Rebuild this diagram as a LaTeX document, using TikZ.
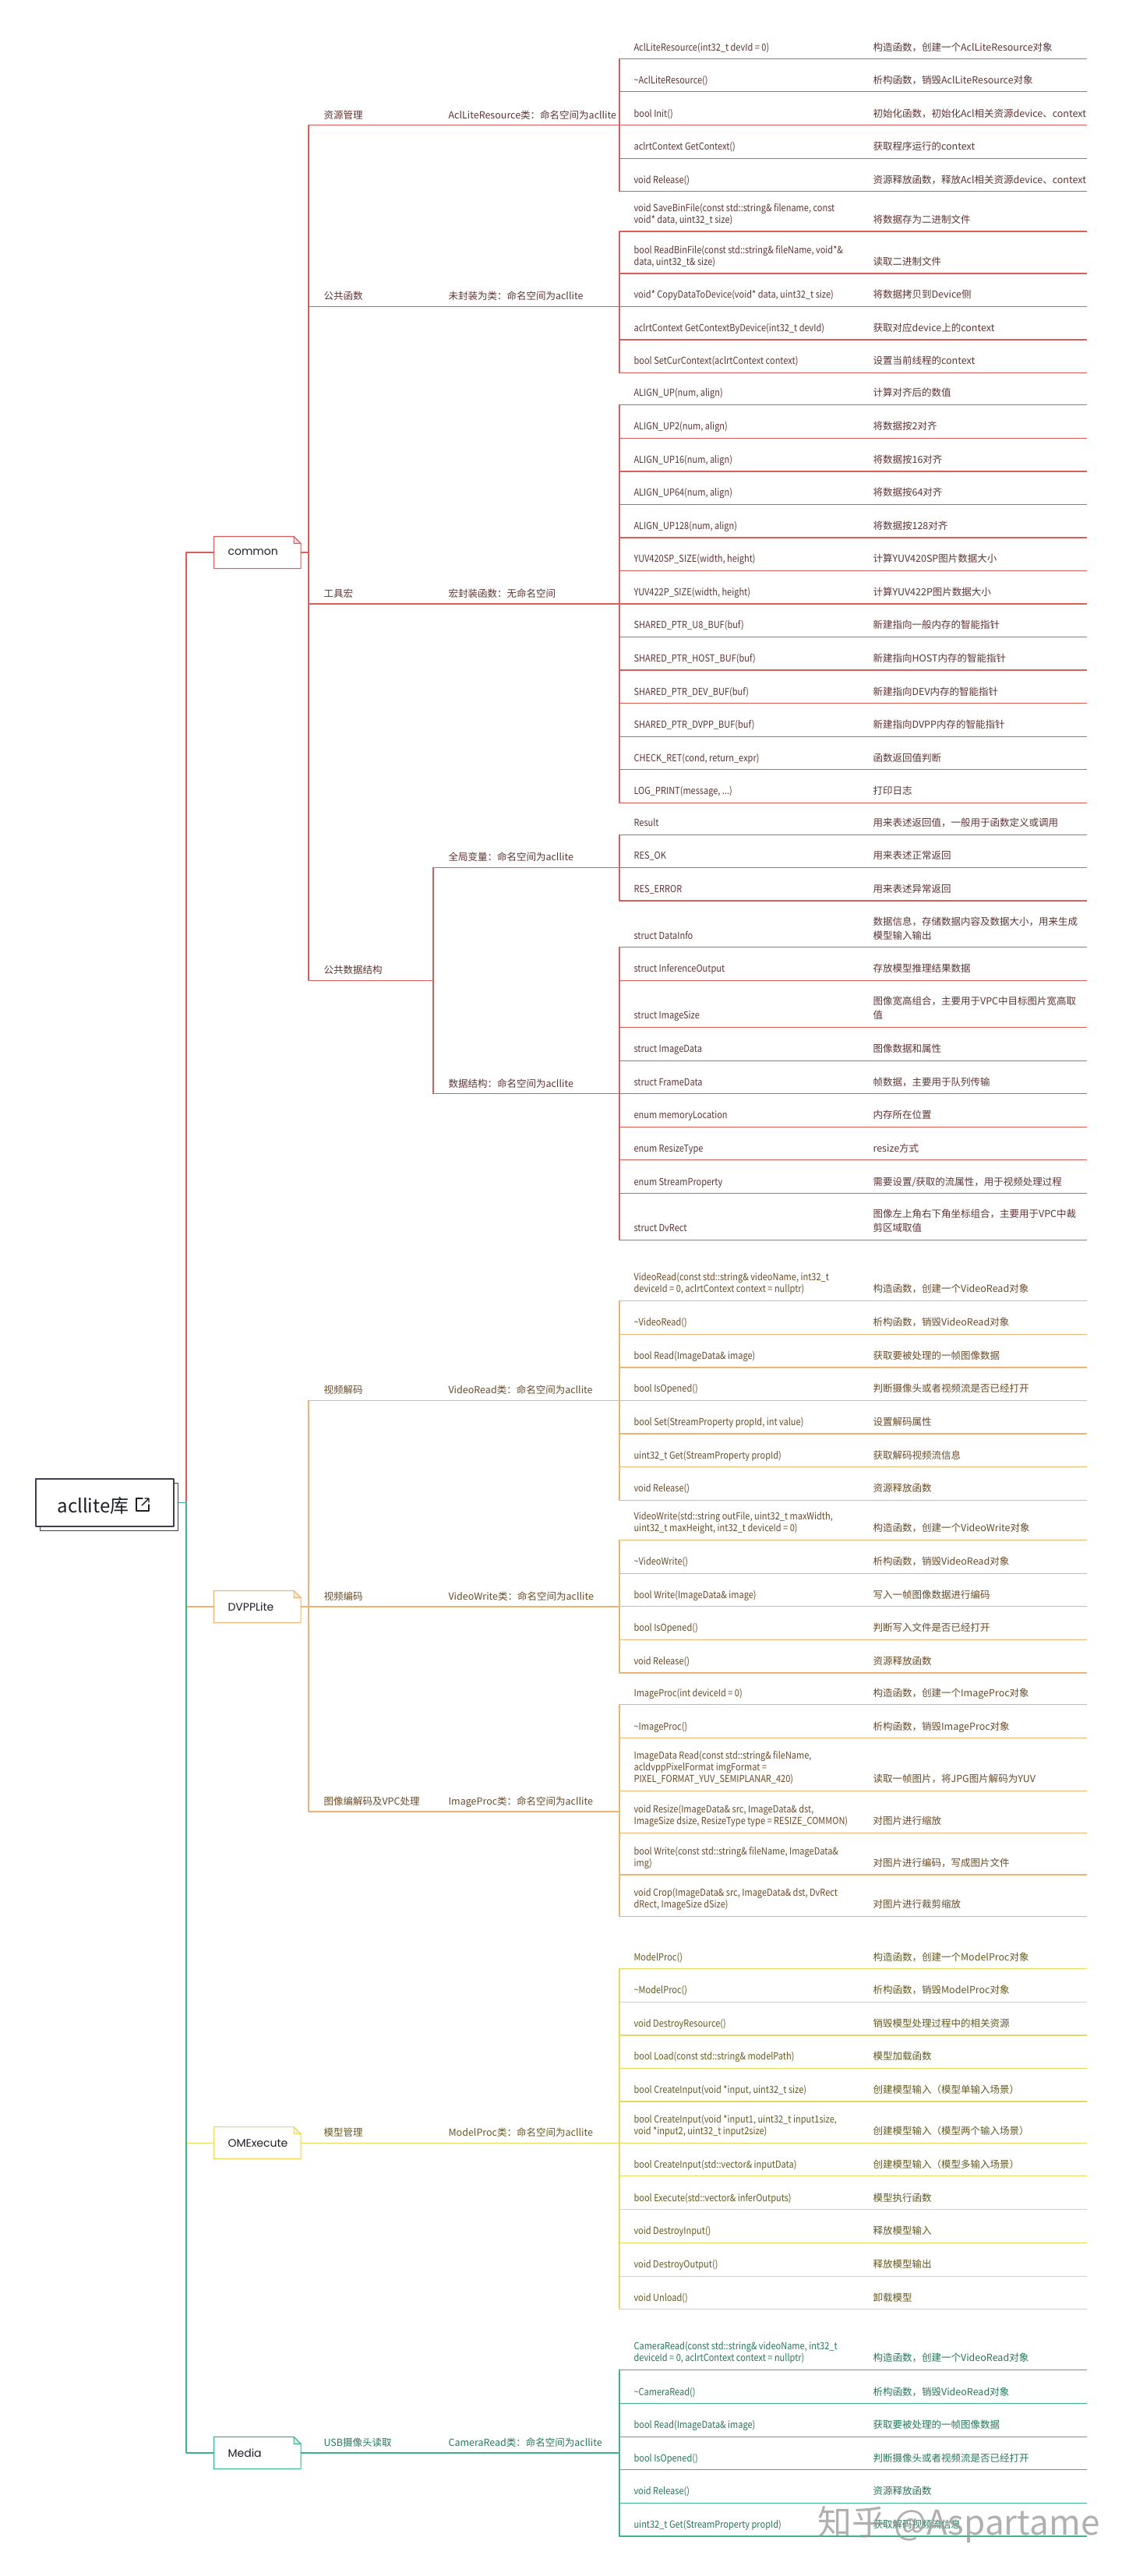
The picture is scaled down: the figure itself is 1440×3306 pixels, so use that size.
\documentclass[tikz,border=0pt]{standalone}
\usepackage{fontspec}
\setmainfont{Noto Sans CJK SC}
\newfontfamily\sigfont[FakeStretch=0.88]{Noto Sans CJK SC}
\newfontfamily\topicfont{Poppins}
\usetikzlibrary{calc}
\definecolor{ink}{RGB}{30,30,40}
\definecolor{rootln}{RGB}{62,62,78}
\definecolor{lnR}{RGB}{220,92,92}
\definecolor{txR}{RGB}{95,52,52}
\definecolor{fdR}{RGB}{246,214,214}
\definecolor{lnO}{RGB}{234,180,115}
\definecolor{txO}{RGB}{105,75,40}
\definecolor{fdO}{RGB}{250,232,208}
\definecolor{lnY}{RGB}{232,216,92}
\definecolor{txY}{RGB}{100,90,30}
\definecolor{fdY}{RGB}{248,242,200}
\definecolor{lnG}{RGB}{62,178,142}
\definecolor{txG}{RGB}{38,118,90}
\definecolor{fdG}{RGB}{208,238,228}
\definecolor{wmark}{RGB}{150,150,150}
% eine Zeile: Unterstrich ab Stamm, Signatur, Beschreibung
\newcommand{\leaf}[4]{%
  \coordinate (#1) at (795,#2);
  \draw (#1) -- ++(599.5,0);
  \node[sig] (#1s) at (813,#2-7) {#3};
  \node[desc] (#1d) at (1120,#2-7) {#4};
}
% Rahmen mit Eselsohr um einen Themenknoten
\newcommand{\dogear}[2]{%
  \draw (#1.south west) -- (#1.north west) -- ([xshift=-9pt]#1.north east)
    -- ([yshift=-9pt]#1.north east) -- (#1.south east) -- cycle;
  \draw[fill=#2] ([xshift=-9pt]#1.north east) -- ([xshift=-9pt,yshift=-9pt]#1.north east)
    -- ([yshift=-9pt]#1.north east) -- cycle;
}
\tikzset{
  every picture/.style={line width=1.1pt, line cap=round, line join=round},
  % Texte
  sig/.style={anchor=south west, inner sep=0pt, text depth=3pt, align=left,
    font=\sigfont\fontsize{12.5}{15}\selectfont},
  desc/.style={anchor=south west, inner sep=0pt, text depth=3pt, align=left,
    font=\fontsize{12.5}{18}\selectfont},
  lbl/.style={anchor=south west, inner sep=0pt, text depth=3pt,
    font=\fontsize{12.5}{15}\selectfont},
  topic/.style={anchor=west, text width=75.5pt, inner xsep=17.5pt, inner ysep=0pt,
    minimum height=40pt, align=left, text=ink, font=\topicfont\fontsize{14}{16}\selectfont},
  rootbox/.style={draw=rootln, line width=1.3pt, minimum width=177pt, minimum height=61pt,
    inner sep=0pt},
  % Zweigfarben
  red branch/.style={color=lnR, every node/.append style={text=txR}},
  orange branch/.style={color=lnO, every node/.append style={text=txO}},
  yellow branch/.style={color=lnY, every node/.append style={text=txY}},
  green branch/.style={color=lnG, every node/.append style={text=txG}},
}
\begin{document}
\begin{tikzpicture}[x=1pt, y=-1pt]
  \fill[white] (0,0) rectangle (1440,3306);
  \useasboundingbox (0,0) rectangle (1440,3306);

  % Wurzel
  \node[rootbox] (rootback) at (140,1934) {};
  \node[rootbox, fill=white] (root) at (134.5,1928.5) {};
  \node[anchor=base west, inner sep=0pt, text=ink, font=\fontsize{24}{28}\selectfont]
    (rootlbl) at (73,1941) {acllite库};
  \coordinate (ic) at ($(root.center)+(40.5,-5.5)$);
  \draw[ink, line width=1.4pt] ($(ic)+(8,0)$) -- (ic) -- ++(0,16) -- ++(16,0) -- ++(0,-8);
  \draw[ink, line width=1.4pt] ($(ic)+(7,9)$) -- ++(9,-9) ++(-5,0) -- ++(5,0) -- ++(0,5);
  \coordinate (rootJ) at (239,1928.5);

  % ---------------- common ----------------
  \begin{scope}[red branch]
    \node[topic] (common) at (274.5,709) {common};
    \dogear{common}{fdR}
    \draw (rootJ) |- (common.west);
    \coordinate (cmJ) at (396,709);
    \draw (common.east) -- (cmJ);
    \foreach \y/\s/\d [count=\i] in {
      75.7/{AclLiteResource(int32\_t devId = 0)}/{构造函数，创建一个AclLiteResource对象},
      117.8/{\textasciitilde AclLiteResource()}/{析构函数，销毁AclLiteResource对象},
      160.7/{bool Init()}/{初始化函数，初始化Acl相关资源device、context},
      203.1/{aclrtContext GetContext()}/{获取程序运行的context},
      245.6/{void Release()}/{资源释放函数，释放Acl相关资源device、context}}
      {\leaf{res\i}{\y}{\s}{\d}}
    \draw (res1) -- (res5);
    \foreach \y/\s/\d [count=\i] in {
      297/{void SaveBinFile(const std::string\& filename, const\\void* data, uint32\_t size)}/{将数据存为二进制文件},
      351/{bool ReadBinFile(const std::string\& fileName, void*\&\\data, uint32\_t\& size)}/{读取二进制文件},
      393.4/{void* CopyDataToDevice(void* data, uint32\_t size)}/{将数据拷贝到Device侧},
      436/{aclrtContext GetContextByDevice(int32\_t devId)}/{获取对应device上的context},
      478.4/{bool SetCurContext(aclrtContext context)}/{设置当前线程的context}}
      {\leaf{fun\i}{\y}{\s}{\d}}
    \draw (fun1) -- (fun5);
    \foreach \y/\s/\d [count=\i] in {
      519.4/{ALIGN\_UP(num, align)}/{计算对齐后的数值},
      562.1/{ALIGN\_UP2(num, align)}/{将数据按2对齐},
      605/{ALIGN\_UP16(num, align)}/{将数据按16对齐},
      647.1/{ALIGN\_UP64(num, align)}/{将数据按64对齐},
      690/{ALIGN\_UP128(num, align)}/{将数据按128对齐},
      732.4/{YUV420SP\_SIZE(width, height)}/{计算YUV420SP图片数据大小},
      775/{YUV422P\_SIZE(width, height)}/{计算YUV422P图片数据大小},
      817.4/{SHARED\_PTR\_U8\_BUF(buf)}/{新建指向一般内存的智能指针},
      860/{SHARED\_PTR\_HOST\_BUF(buf)}/{新建指向HOST内存的智能指针},
      902.7/{SHARED\_PTR\_DEV\_BUF(buf)}/{新建指向DEV内存的智能指针},
      945.2/{SHARED\_PTR\_DVPP\_BUF(buf)}/{新建指向DVPP内存的智能指针},
      987.7/{CHECK\_RET(cond, return\_expr)}/{函数返回值判断},
      1030.2/{LOG\_PRINT(message, ...)}/{打印日志}}
      {\leaf{mac\i}{\y}{\s}{\d}}
    \draw (mac1) -- (mac13);
    \foreach \y/\s/\d [count=\i] in {
      1071.3/{Result}/{用来表述返回值，一般用于函数定义或调用},
      1113.2/{RES\_OK}/{用来表述正常返回},
      1156/{RES\_ERROR}/{用来表述异常返回}}
      {\leaf{var\i}{\y}{\s}{\d}}
    \draw (var1) -- (var3);
    \foreach \y/\s/\d [count=\i] in {
      1215.7/{struct DataInfo}/{数据信息，存储数据内容及数据大小，用来生成\\模型输入输出},
      1258.5/{struct InferenceOutput}/{存放模型推理结果数据},
      1318.5/{struct ImageSize}/{图像宽高组合，主要用于VPC中目标图片宽高取\\值},
      1361.3/{struct ImageData}/{图像数据和属性},
      1403.8/{struct FrameData}/{帧数据，主要用于队列传输},
      1446.3/{enum memoryLocation}/{内存所在位置},
      1488.8/{enum ResizeType}/{resize方式},
      1531.6/{enum StreamProperty}/{需要设置/获取的流属性，用于视频处理过程},
      1591.2/{struct DvRect}/{图像左上角右下角坐标组合，主要用于VPC中裁\\剪区域取值}}
      {\leaf{dat\i}{\y}{\s}{\d}}
    \draw (dat1) -- (dat9);
    % Unterthemen
    \coordinate (k1) at (396,160.7);
    \coordinate (k2) at (396,393.4);
    \coordinate (k3) at (396,775);
    \coordinate (k4) at (396,1258.5);
    \coordinate (k4b) at (556,1258.5);
    \coordinate (j4a) at (556,1113.2);
    \coordinate (j4b) at (556,1403.8);
    \draw (k1) -- (k4);
    \draw (k1) -- (k1 -| res1);
    \draw (k2) -- (k2 -| fun1);
    \draw (k3) -- (k3 -| mac1);
    \draw (k4) -- (k4b);
    \draw (j4a) -- (j4b);
    \draw (j4a) -- (j4a -| var1);
    \draw (j4b) -- (j4b -| dat1);
    \node[lbl] (t1) at (415,160.7-5) {资源管理};
    \node[lbl] (t2) at (415,393.4-5) {公共函数};
    \node[lbl] (t3) at (415,775-5) {工具宏};
    \node[lbl] (t4) at (415,1258.5-5) {公共数据结构};
    \node[lbl] (c1) at (575,160.7-5) {AclLiteResource类：命名空间为acllite};
    \node[lbl] (c2) at (575,393.4-5) {未封装为类：命名空间为acllite};
    \node[lbl] (c3) at (575,775-5) {宏封装函数：无命名空间};
    \node[lbl] (c4) at (575,1113.2-5) {全局变量：命名空间为acllite};
    \node[lbl] (c5) at (575,1403.8-5) {数据结构：命名空间为acllite};
  \end{scope}

  % ---------------- DVPPLite ----------------
  \begin{scope}[orange branch]
    \node[topic] (dvpp) at (274.5,2062) {DVPPLite};
    \dogear{dvpp}{fdO}
    \draw (rootJ) |- (dvpp.west);
    \coordinate (dvJ) at (396,2062);
    \draw (dvpp.east) -- (dvJ);
    \foreach \y/\s/\d [count=\i] in {
      1669.3/{VideoRead(const std::string\& videoName, int32\_t\\deviceId = 0, aclrtContext context = nullptr)}/{构造函数，创建一个VideoRead对象},
      1712.1/{\textasciitilde VideoRead()}/{析构函数，销毁VideoRead对象},
      1755/{bool Read(ImageData\& image)}/{获取要被处理的一帧图像数据},
      1797.5/{bool IsOpened()}/{判断摄像头或者视频流是否已经打开},
      1840/{bool Set(StreamProperty propId, int value)}/{设置解码属性},
      1882.8/{uint32\_t Get(StreamProperty propId)}/{获取解码视频流信息},
      1925.3/{void Release()}/{资源释放函数}}
      {\leaf{vr\i}{\y}{\s}{\d}}
    \draw (vr1) -- (vr7);
    \foreach \y/\s/\d [count=\i] in {
      1976.3/{VideoWrite(std::string outFile, uint32\_t maxWidth,\\uint32\_t maxHeight, int32\_t deviceId = 0)}/{构造函数，创建一个VideoWrite对象},
      2019.2/{\textasciitilde VideoWrite()}/{析构函数，销毁VideoRead对象},
      2061.7/{bool Write(ImageData\& image)}/{写入一帧图像数据进行编码},
      2104.5/{bool IsOpened()}/{判断写入文件是否已经打开},
      2147/{void Release()}/{资源释放函数}}
      {\leaf{vw\i}{\y}{\s}{\d}}
    \draw (vw1) -- (vw5);
    \foreach \y/\s/\d [count=\i] in {
      2187.8/{ImageProc(int deviceId = 0)}/{构造函数，创建一个ImageProc对象},
      2230.7/{\textasciitilde ImageProc()}/{析构函数，销毁ImageProc对象},
      2298.5/{ImageData Read(const std::string\& fileName,\\acldvppPixelFormat imgFormat =\\PIXEL\_FORMAT\_YUV\_SEMIPLANAR\_420)}/{读取一帧图片，将JPG图片解码为YUV},
      2352.4/{void Resize(ImageData\& src, ImageData\& dst,\\ImageSize dsize, ResizeType type = RESIZE\_COMMON)}/{对图片进行缩放},
      2406/{bool Write(const std::string\& fileName, ImageData\&\\img)}/{对图片进行编码，写成图片文件},
      2459.2/{void Crop(ImageData\& src, ImageData\& dst, DvRect\\dRect, ImageSize dSize)}/{对图片进行裁剪缩放}}
      {\leaf{ip\i}{\y}{\s}{\d}}
    \draw (ip1) -- (ip6);
    \coordinate (k5) at (396,1797.5);
    \coordinate (k6) at (396,2062);
    \coordinate (k7) at (396,2325);
    \draw (k5) -- (k7);
    \draw (k5) -- (k5 -| vr1);
    \draw (k6) -- (k6 -| vw1);
    \draw (k7) -- (k7 -| ip1);
    \node[lbl] (t5) at (415,1797.5-5) {视频解码};
    \node[lbl] (t6) at (415,2062-5) {视频编码};
    \node[lbl] (t7) at (415,2325-5) {图像编解码及VPC处理};
    \node[lbl] (c6) at (575,1797.5-5) {VideoRead类：命名空间为acllite};
    \node[lbl] (c7) at (575,2062-5) {VideoWrite类：命名空间为acllite};
    \node[lbl] (c8) at (575,2325-5) {ImageProc类：命名空间为acllite};
  \end{scope}

  % ---------------- OMExecute ----------------
  \begin{scope}[yellow branch]
    \node[topic] (omx) at (274.5,2750.2) {OMExecute};
    \dogear{omx}{fdY}
    \draw (rootJ) |- (omx.west);
    \foreach \y/\s/\d [count=\i] in {
      2526.7/{ModelProc()}/{构造函数，创建一个ModelProc对象},
      2569.1/{\textasciitilde ModelProc()}/{析构函数，销毁ModelProc对象},
      2612/{void DestroyResource()}/{销毁模型处理过程中的相关资源},
      2654.5/{bool Load(const std::string\& modelPath)}/{模型加载函数},
      2697/{bool CreateInput(void *input, uint32\_t size)}/{创建模型输入（模型单输入场景）},
      2750.2/{bool CreateInput(void *input1, uint32\_t input1size,\\void *input2, uint32\_t input2size)}/{创建模型输入（模型两个输入场景）},
      2792.8/{bool CreateInput(std::vector\& inputData)}/{创建模型输入（模型多输入场景）},
      2835.7/{bool Execute(std::vector\& inferOutputs)}/{模型执行函数},
      2878.2/{void DestroyInput()}/{释放模型输入},
      2921.1/{void DestroyOutput()}/{释放模型输出},
      2963.6/{void Unload()}/{卸载模型}}
      {\leaf{mp\i}{\y}{\s}{\d}}
    \draw (mp1) -- (mp11);
    \draw (omx.east) -- (omx.east -| mp1);
    \node[lbl] (t8) at (415,2750.2-5) {模型管理};
    \node[lbl] (c9) at (575,2750.2-5) {ModelProc类：命名空间为acllite};
  \end{scope}

  % ---------------- Media ----------------
  \begin{scope}[green branch]
    \node[topic] (media) at (274.5,3148) {Media};
    \dogear{media}{fdG}
    \draw (root.east -| rootback.east) -- (rootJ) |- (media.west);
    \foreach \y/\s/\d [count=\i] in {
      3041.3/{CameraRead(const std::string\& videoName, int32\_t\\deviceId = 0, aclrtContext context = nullptr)}/{构造函数，创建一个VideoRead对象},
      3084.6/{\textasciitilde CameraRead()}/{析构函数，销毁VideoRead对象},
      3127.1/{bool Read(ImageData\& image)}/{获取要被处理的一帧图像数据},
      3169.6/{bool IsOpened()}/{判断摄像头或者视频流是否已经打开},
      3212.5/{void Release()}/{资源释放函数},
      3255/{uint32\_t Get(StreamProperty propId)}/{获取解码视频流信息}}
      {\leaf{cam\i}{\y}{\s}{\d}}
    \draw (cam1) -- (cam6);
    \draw (media.east) -- (media.east -| cam1);
    \node[lbl] (t9) at (415,3148-5) {USB摄像头读取};
    \node[lbl] (c10) at (575,3148-5) {CameraRead类：命名空间为acllite};
  \end{scope}

  % Wasserzeichen
  \node[anchor=base west, inner sep=0pt, text=wmark, opacity=0.75,
    font=\fontsize{44}{48}\selectfont] (wm) at (1049,3253) {知乎 @Aspartame};
\end{tikzpicture}
\end{document}
